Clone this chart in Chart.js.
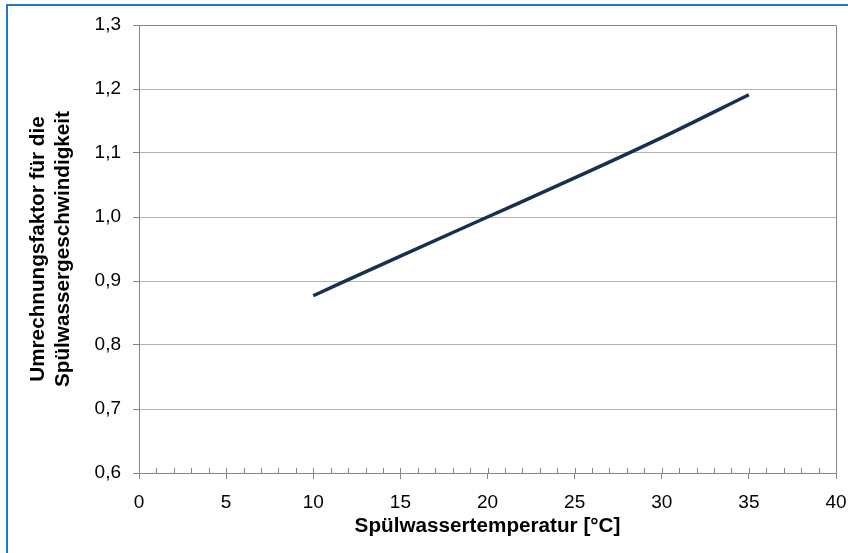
<!DOCTYPE html>
<html>
<head>
<meta charset="utf-8">
<script src="https://cdn.jsdelivr.net/npm/chart.js@4.4.1/dist/chart.umd.min.js"></script>
<style>
  html, body { margin: 0; padding: 0; background: #fff; overflow: hidden; }
  #wrap { position: relative; width: 848px; height: 553px; }
  #frame { position: absolute; left: 6px; top: 4px; width: 900px; height: 600px; border: 2px solid #2277c7; box-sizing: border-box; }
  canvas { position: absolute; left: 0; top: 0; }
</style>
</head>
<body>
<div id="wrap">
  <canvas id="chart" width="848" height="553"></canvas>
  <div id="frame"></div>
</div>
<script>
// values
const temperatures = [10, 15, 20, 25, 30, 35];
const factors = [0.877, 0.939, 1.0, 1.061, 1.124, 1.191];

const xTitle = "Spülwassertemperatur [°C]";
const yTitle = ["Umrechnungsfaktor für die", "Spülwassergeschwindigkeit"];

const axisColor = "#868686";
const gridColor = "#b3b3b3";
const tickFont = { family: "Liberation Sans", size: 19 };
const titleFont = { family: "Liberation Sans", size: 20.7, weight: "bold" };

// small inner ticks on the x axis plus the dark top/right edge of the plot
const plotFrame = {
  id: "plotFrame",
  beforeDatasetsDraw(chart) {
    const { ctx, chartArea: a, scales: { x } } = chart;
    ctx.save();
    ctx.strokeStyle = axisColor;
    ctx.lineWidth = 1;
    ctx.beginPath();
    for (let v = x.min; v <= x.max; v += 1) {
      const px = Math.round(x.getPixelForValue(v)) + 0.5;
      ctx.moveTo(px, a.bottom - 5);
      ctx.lineTo(px, a.bottom);
    }
    const top = Math.round(a.top) + 0.5;
    const right = Math.round(a.right) + 0.5;
    ctx.moveTo(a.left, top);
    ctx.lineTo(right, top);
    ctx.lineTo(right, a.bottom);
    ctx.stroke();
    ctx.restore();
  }
};

new Chart(document.getElementById("chart"), {
  type: "line",
  data: {
    datasets: [{
      data: temperatures.map((t, i) => ({ x: t, y: factors[i] })),
      borderColor: "#17304f",
      borderWidth: 3.5,
      pointRadius: 0,
      cubicInterpolationMode: "monotone",
      fill: false
    }]
  },
  options: {
    responsive: false,
    devicePixelRatio: 1,
    animation: false,
    layout: { padding: { left: 0, top: 25, right: 12, bottom: 0 } },
    plugins: { legend: { display: false }, tooltip: { enabled: false } },
    scales: {
      x: {
        type: "linear",
        min: 0,
        max: 40,
        ticks: { stepSize: 5, color: "#000", font: tickFont, padding: 12, maxRotation: 0 },
        grid: { drawOnChartArea: false, tickLength: 6, color: axisColor },
        border: { color: axisColor },
        title: { display: true, text: xTitle, color: "#000", font: titleFont, padding: { top: 0, bottom: 14 } },
        afterFit: (scale) => {
          scale.height = 80;
          scale.paddingLeft = 0;
          scale.paddingRight = 0;
        }
      },
      y: {
        min: 0.6,
        max: 1.3,
        ticks: {
          stepSize: 0.1,
          color: "#000",
          font: tickFont,
          padding: 12,
          callback: (v) => v.toFixed(1).replace(".", ",")
        },
        grid: { color: gridColor, tickLength: 6, tickColor: axisColor },
        border: { color: axisColor },
        title: { display: true, text: yTitle, color: "#000", font: titleFont, padding: { top: 26, bottom: 0 } },
        afterFit: (scale) => { scale.width = 139; }
      }
    }
  },
  plugins: [plotFrame]
});
</script>
</body>
</html>
